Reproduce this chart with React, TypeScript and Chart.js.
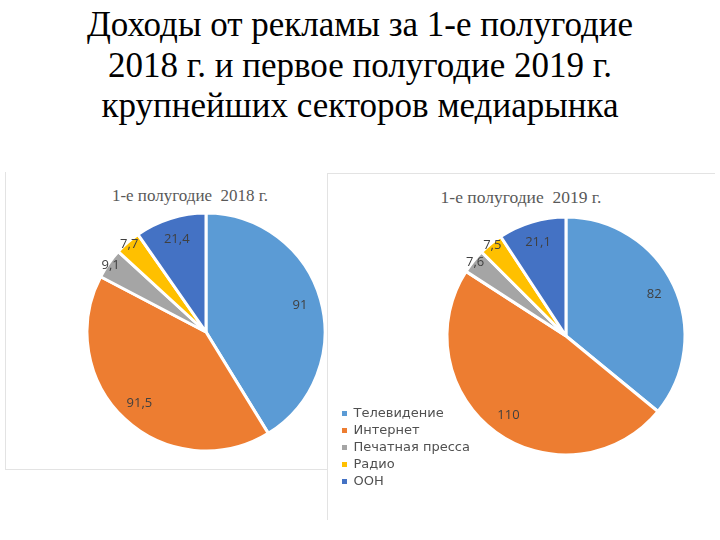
import React, { useEffect, useRef } from "react";
import { Chart, registerables } from "chart.js";

Chart.register(...registerables);

const categories = ["Телевидение", "Интернет", "Печатная пресса", "Радио", "ООН"];
const values2018 = [91, 91.5, 9.1, 7.7, 21.4];
const values2019 = [82, 110, 7.6, 7.5, 21.1];
const colors = ["#5B9BD5", "#ED7D31", "#A5A5A5", "#FFC000", "#4472C4"];
const titleLines = [
  "Доходы от рекламы за 1-е полугодие",
  "2018 г. и первое полугодие 2019 г.",
  "крупнейших секторов медиарынка",
];
const subtitle2018 = "1-е полугодие  2018 г.";
const subtitle2019 = "1-е полугодие  2019 г.";

const labelPlugin = {
  id: "sliceLabels",
  afterDatasetsDraw(chart: any) {
    const ctx = chart.ctx;
    const meta = chart.getDatasetMeta(0);
    const data = chart.data.datasets[0].data as number[];
    const total = data.reduce((a, b) => a + b, 0);
    ctx.save();
    ctx.font = '13px "Open Sans"';
    ctx.fillStyle = "#404040";
    ctx.textAlign = "center";
    ctx.textBaseline = "middle";
    meta.data.forEach((arc: any, i: number) => {
      const { x, y, startAngle, endAngle, outerRadius } = arc.getProps(
        ["x", "y", "startAngle", "endAngle", "outerRadius"],
        true
      );
      const mid = (startAngle + endAngle) / 2;
      const frac = data[i] / total;
      const r = frac < 0.06 ? outerRadius * 0.98 : outerRadius * 0.82;
      const text = String(data[i]).replace(".", ",");
      ctx.fillText(text, x + Math.cos(mid) * r, y + Math.sin(mid) * r);
    });
    ctx.restore();
  },
};

function makeConfig(values: number[], withLegend: boolean, padRight: number): any {
  const defaultGen = (Chart as any).overrides.pie.plugins.legend.labels.generateLabels;
  return {
    type: "pie",
    data: {
      labels: categories,
      datasets: [
        {
          data: values,
          backgroundColor: colors,
          borderColor: "#ffffff",
          borderWidth: 3,
          radius: 119,
        },
      ],
    },
    options: {
      animation: false,
      responsive: false,
      maintainAspectRatio: false,
      layout: { padding: { left: 0, top: 0, bottom: 0, right: padRight } },
      plugins: {
        tooltip: { enabled: false },
        legend: withLegend
          ? {
              display: true,
              position: "left",
              align: "end",
              labels: {
                boxWidth: 5,
                boxHeight: 5,
                padding: 4,
                color: "#505050",
                font: { family: '"DejaVu Sans"', size: 13 },
                generateLabels: (chart: any) =>
                  defaultGen(chart).map((item: any) => ({
                    ...item,
                    lineWidth: 0,
                    strokeStyle: item.fillStyle,
                  })),
              },
            }
          : { display: false },
      },
    },
    plugins: [labelPlugin],
  };
}

export default function App() {
  const leftRef = useRef<HTMLCanvasElement>(null);
  const rightRef = useRef<HTMLCanvasElement>(null);

  useEffect(() => {
    const c1 = new Chart(leftRef.current!, makeConfig(values2018, false, 0));
    const c2 = new Chart(rightRef.current!, makeConfig(values2019, true, 56));
    return () => {
      c1.destroy();
      c2.destroy();
    };
  }, []);

  const line = (l: number, t: number, w: number, h: number) => ({
    position: "absolute" as const,
    left: l,
    top: t,
    width: w,
    height: h,
    background: "#e3e3e3",
  });

  return (
    <div
      style={{
        position: "absolute",
        left: 0,
        top: 0,
        width: 720,
        height: 540,
        overflow: "hidden",
        background: "#ffffff",
      }}
    >
      <div
        style={{
          position: "absolute",
          left: 0,
          top: 5,
          width: 720,
          textAlign: "center",
          fontFamily: '"Liberation Serif", serif',
          fontSize: 35,
          lineHeight: "40.5px",
          color: "#000000",
        }}
      >
        {titleLines.map((t, i) => (
          <div key={i}>{t}</div>
        ))}
      </div>

      <div style={line(5, 172, 1, 298)} />
      <div style={line(5, 469, 322, 1)} />
      <div style={line(327, 173, 1, 347)} />
      <div style={line(327, 173, 388, 1)} />

      <div
        style={{
          position: "absolute",
          left: 90,
          top: 186,
          width: 200,
          textAlign: "center",
          fontFamily: '"Liberation Serif", serif',
          fontSize: 17,
          color: "#595959",
          whiteSpace: "pre",
        }}
      >
        {subtitle2018}
      </div>
      <div
        style={{
          position: "absolute",
          left: 421,
          top: 187,
          width: 200,
          textAlign: "center",
          fontFamily: '"Liberation Serif", serif',
          fontSize: 17.5,
          color: "#595959",
          whiteSpace: "pre",
        }}
      >
        {subtitle2019}
      </div>

      <canvas
        ref={leftRef}
        width={240}
        height={240}
        style={{ position: "absolute", left: 86, top: 212, width: 240, height: 240 }}
      />
      <canvas
        ref={rightRef}
        width={370}
        height={312}
        style={{ position: "absolute", left: 338, top: 180, width: 370, height: 312 }}
      />
    </div>
  );
}
